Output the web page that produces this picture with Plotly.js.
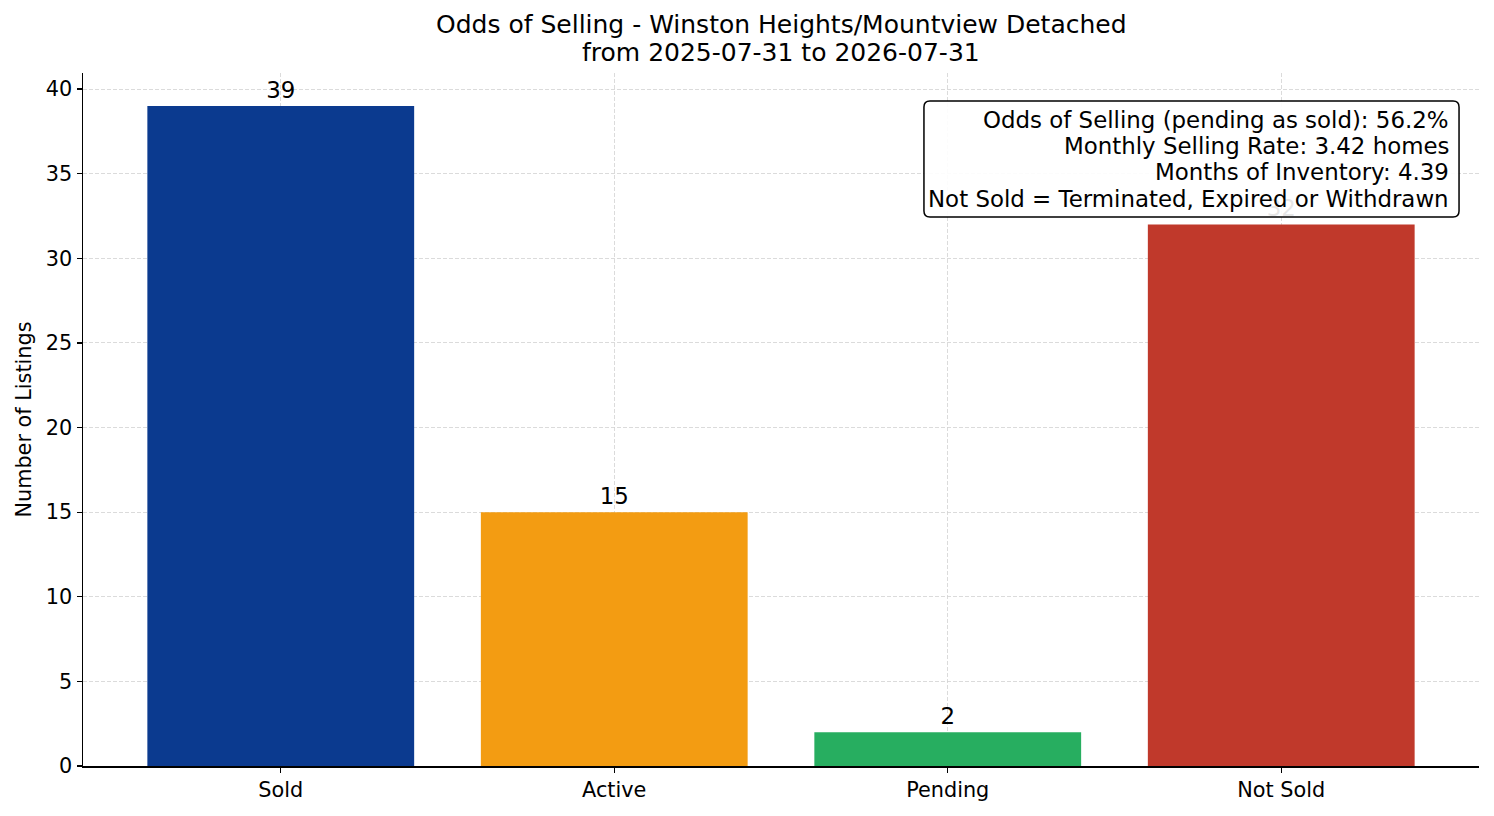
<!DOCTYPE html>
<html>
<head>
<meta charset="utf-8">
<script src="https://cdn.plot.ly/plotly-3.0.1.min.js"></script>
<style>
  html, body { margin: 0; padding: 0; background: #fff; }
  #chart { width: 1494px; height: 816px; }
</style>
</head>
<body>
<div id="chart"></div>
<script>
// data
const categories = ["Sold", "Active", "Pending", "Not Sold"];
const counts = [39, 15, 2, 32];
const barColors = ["#0b3a8f", "#f39c12", "#27ae60", "#c0392b"];
const yTicks = [0, 5, 10, 15, 20, 25, 30, 35, 40];
const titleLines = [
  "Odds of Selling - Winston Heights/Mountview Detached",
  "from 2025-07-31 to 2026-07-31",
];
const statLines = [
  "Odds of Selling (pending as sold): 56.2%",
  "Monthly Selling Rate: 3.42 homes",
  "Months of Inventory: 4.39",
  "Not Sold = Terminated, Expired or Withdrawn",
];

const font = "DejaVu Sans, Liberation Sans, sans-serif";

let trace_bars = {
  type: "bar",
  x: [0, 1, 2, 3],
  y: counts,
  width: 0.8,
  marker: { color: barColors, line: { width: 0 } },
  text: counts.map(String),
  textposition: "outside",
  cliponaxis: false,
  textfont: { family: font, size: 22.9, color: "#000" },
  hoverinfo: "skip",
};

// stats box in paper coords, rounded corners
const bx0 = 0.6024, bx1 = 0.9857, by0 = 0.7922, by1 = 0.9596;
const rx = 6 / 1396, ry = 6 / 693;
const boxPath =
  `M ${bx0 + rx},${by1} L ${bx1 - rx},${by1} Q ${bx1},${by1} ${bx1},${by1 - ry} ` +
  `L ${bx1},${by0 + ry} Q ${bx1},${by0} ${bx1 - rx},${by0} ` +
  `L ${bx0 + rx},${by0} Q ${bx0},${by0} ${bx0},${by0 + ry} ` +
  `L ${bx0},${by1 - ry} Q ${bx0},${by1} ${bx0 + rx},${by1} Z`;

const statY = [0.9322, 0.8947, 0.8571, 0.8182];
const titleY = [1.0693, 1.0289];

let annotations = [];
titleLines.forEach((t, i) => {
  annotations.push({
    xref: "paper", yref: "paper", x: 0.5, y: titleY[i],
    xanchor: "center", yanchor: "middle", showarrow: false,
    text: t, font: { family: font, size: 25, color: "#000" },
  });
});
statLines.forEach((t, i) => {
  annotations.push({
    xref: "paper", yref: "paper", x: 0.9799, y: statY[i],
    xanchor: "right", yanchor: "middle", align: "right", showarrow: false,
    text: t, font: { family: font, size: 22.9, color: "#000" },
  });
});

const axisCommon = {
  ticks: "outside",
  ticklen: 5,
  tickwidth: 1.2,
  tickcolor: "#000",
  tickfont: { family: font, size: 20.8, color: "#000" },
  showline: true,
  linecolor: "#000",
  linewidth: 1.5,
  showgrid: true,
  gridcolor: "#d2d2d2",
  griddash: "4px,2px",
  gridwidth: 0.8,
  zeroline: false,
  fixedrange: true,
  layer: "above traces",
};

let layout = {
  width: 1494,
  height: 816,
  margin: { l: 83, r: 15, t: 73, b: 50, pad: 0 },
  paper_bgcolor: "#fff",
  plot_bgcolor: "#fff",
  showlegend: false,
  font: { family: font, color: "#000" },
  xaxis: Object.assign({}, axisCommon, {
    range: [-0.593, 3.593],
    tickvals: [0, 1, 2, 3],
    ticktext: categories,
  }),
  yaxis: Object.assign({}, axisCommon, {
    range: [0, 40.95],
    tickvals: yTicks,
    title: { text: "Number of Listings", font: { family: font, size: 20.8, color: "#000" }, standoff: 8 },
  }),
  shapes: [
    {
      type: "path",
      xref: "paper",
      yref: "paper",
      path: boxPath,
      fillcolor: "rgba(255,255,255,0.9)",
      line: { color: "#000", width: 1.5 },
      layer: "above",
    },
  ],
  annotations: annotations,
};

Plotly.newPlot("chart", [trace_bars], layout, { displayModeBar: false, staticPlot: true });
</script>
</body>
</html>
